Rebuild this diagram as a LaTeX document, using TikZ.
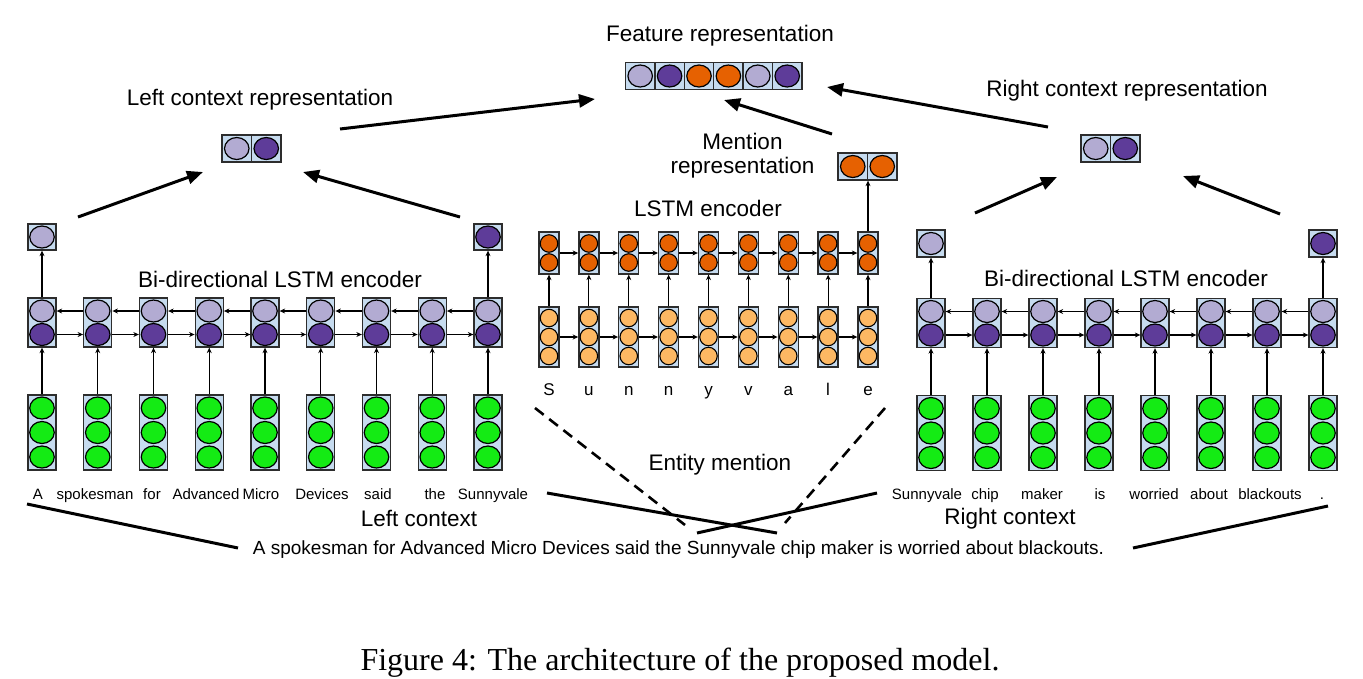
\documentclass[tikz,border=0pt]{standalone}
\usepackage{fontspec}
\setmainfont{Liberation Sans}
\newfontfamily\capfont{Liberation Serif}
\usetikzlibrary{arrows.meta,shapes.geometric}
\definecolor{cellbg}{RGB}{198,219,239}
\definecolor{lpur}{HTML}{B2ABD2}
\definecolor{dpur}{HTML}{5E3C99}
\definecolor{dor}{HTML}{E66101}
\definecolor{lor}{HTML}{FDB863}
\definecolor{grn}{RGB}{20,235,20}
\definecolor{edgec}{RGB}{45,45,45}
\begin{document}
\begin{tikzpicture}[x=1pt,y=-1pt,
  cellbox/.style={rectangle, draw=edgec, fill=cellbg, line width=1.3pt, inner sep=0pt},
  ell/.style={ellipse, draw=black, line width=1.2pt, inner sep=0pt, minimum width=24.5pt, minimum height=22pt},
  sml/.style={circle, draw=black, line width=1.1pt, inner sep=0pt, minimum size=17.5pt},
  link/.style={line width=1.1pt, -{Stealth[length=5.5pt,width=5pt]}},
  bigarrow/.style={line width=3pt, -{Triangle[length=16pt,width=13pt]}},
  bar/.style={line width=3pt},
  dashline/.style={line width=2.6pt, dash pattern=on 11pt off 7pt},
  lbl/.style={font=\fontsize{22.5pt}{27pt}\selectfont, inner sep=0pt},
  wrd/.style={font=\fontsize{15pt}{18pt}\selectfont, inner sep=0pt, anchor=base},
  chr/.style={font=\fontsize{17pt}{20pt}\selectfont, inner sep=0pt, anchor=base},
  sent/.style={font=\fontsize{19pt}{23pt}\selectfont, inner sep=0pt}
]
\useasboundingbox (0,0) rectangle (1363,678);

% ---------------- Left bi-directional encoder ----------------
\foreach \i in {0,...,8} {
  \pgfmathsetmacro\xx{42+55.75*\i}
  \node[cellbox, minimum width=28pt, minimum height=49pt] (LB\i) at (\xx,322.5) {};
  \node[ell, fill=lpur] (LBu\i) at (\xx,311) {};
  \node[ell, fill=dpur] (LBd\i) at (\xx,334.5) {};
  \node[cellbox, minimum width=28pt, minimum height=75pt] (LG\i) at (\xx,432.5) {};
  \node[ell, fill=grn] (LGa\i) at (\xx,408) {};
  \node[ell, fill=grn] (LGb\i) at (\xx,432.5) {};
  \node[ell, fill=grn] (LGc\i) at (\xx,457) {};
  \draw[link] (LG\i.north) -- (LB\i.south);
}
\foreach \i in {0,...,7} {
  \pgfmathtruncatemacro\j{\i+1}
  \draw[link] (LB\i.east |- LBd\i.center) -- (LB\j.west |- LBd\j.center);
  \draw[link] (LB\j.west |- LBu\j.center) -- (LB\i.east |- LBu\i.center);
}
\node[cellbox, minimum width=28pt, minimum height=26pt] (LO0) at (42,237) {};
\node[ell, fill=lpur] (LOe0) at (42,237) {};
\node[cellbox, minimum width=28pt, minimum height=26pt] (LO8) at (488,237) {};
\node[ell, fill=dpur] (LOe8) at (488,237) {};
\draw[link] (LB0.north) -- (LO0.south);
\draw[link] (LB8.north) -- (LO8.south);

\foreach \x/\w [count=\k] in {38/A, 95/spokesman, 152/for, 206/Advanced, 261/Micro, 322/Devices, 378/said, 435/the, 493/Sunnyvale}
  \node[wrd] (lw\k) at (\x,499.5) {\w};

% ---------------- Right bi-directional encoder ----------------
\foreach \i in {0,...,7} {
  \pgfmathsetmacro\xx{931+56*\i}
  \node[cellbox, minimum width=28pt, minimum height=49pt] (RB\i) at (\xx,323) {};
  \node[ell, fill=lpur] (RBu\i) at (\xx,311.5) {};
  \node[ell, fill=dpur] (RBd\i) at (\xx,335) {};
  \node[cellbox, minimum width=28pt, minimum height=75pt] (RG\i) at (\xx,433) {};
  \node[ell, fill=grn] (RGa\i) at (\xx,408.5) {};
  \node[ell, fill=grn] (RGb\i) at (\xx,433) {};
  \node[ell, fill=grn] (RGc\i) at (\xx,457.5) {};
  \draw[link] (RG\i.north) -- (RB\i.south);
}
\foreach \i in {0,...,6} {
  \pgfmathtruncatemacro\j{\i+1}
  \draw[link] (RB\i.east |- RBd\i.center) -- (RB\j.west |- RBd\j.center);
  \draw[link] (RB\j.west |- RBu\j.center) -- (RB\i.east |- RBu\i.center);
}
\node[cellbox, minimum width=28pt, minimum height=27pt] (RO0) at (931,243.5) {};
\node[ell, fill=lpur] (ROe0) at (931,243.5) {};
\node[cellbox, minimum width=28pt, minimum height=27pt] (RO7) at (1323,243.5) {};
\node[ell, fill=dpur] (ROe7) at (1323,243.5) {};
\draw[link] (RB0.north) -- (RO0.south);
\draw[link] (RB7.north) -- (RO7.south);

\foreach \x/\w [count=\k] in {927/Sunnyvale, 985/chip, 1042/maker, 1100/is, 1154/worried, 1209/about, 1270/blackouts, 1322/.}
  \node[wrd] (rw\k) at (\x,499.5) {\w};

% ---------------- Middle character LSTM ----------------
\foreach \i in {0,...,8} {
  \pgfmathsetmacro\xx{549+39.875*\i}
  \node[cellbox, minimum width=20pt, minimum height=42pt] (MT\i) at (\xx,253) {};
  \node[sml, fill=dor] (MTa\i) at (\xx,243.5) {};
  \node[sml, fill=dor] (MTb\i) at (\xx,262.5) {};
  \node[cellbox, minimum width=20pt, minimum height=60pt] (MB\i) at (\xx,337) {};
  \node[sml, fill=lor] (MBa\i) at (\xx,318) {};
  \node[sml, fill=lor] (MBb\i) at (\xx,337) {};
  \node[sml, fill=lor] (MBc\i) at (\xx,356) {};
  \draw[link] (MB\i.north) -- (MT\i.south);
}
\foreach \i in {0,...,7} {
  \pgfmathtruncatemacro\j{\i+1}
  \draw[link] (MT\i.east) -- (MT\j.west);
  \draw[link] (MB\i.east) -- (MB\j.west);
}
\foreach \c [count=\k from 0] in {S,u,n,n,y,v,a,l,e} {
  \pgfmathsetmacro\xx{549+39.875*\k}
  \node[chr] (ch\k) at (\xx,395) {\c};
}

% mention representation
\node[cellbox, minimum width=29.5pt, minimum height=27pt] (MRa) at (852.75,166.5) {};
\node[ell, fill=dor] (MRae) at (852.75,166.5) {};
\node[cellbox, minimum width=29.5pt, minimum height=27pt] (MRb) at (882.25,166.5) {};
\node[ell, fill=dor] (MRbe) at (882.25,166.5) {};
\draw[link] (MT8.north) -- (MT8.north |- MRa.south);

% left / right context representations
\node[cellbox, minimum width=29.5pt, minimum height=27pt] (LRa) at (236.75,148.5) {};
\node[ell, fill=lpur] (LRae) at (236.75,148.5) {};
\node[cellbox, minimum width=29.5pt, minimum height=27pt] (LRb) at (266.25,148.5) {};
\node[ell, fill=dpur] (LRbe) at (266.25,148.5) {};
\node[cellbox, minimum width=29.5pt, minimum height=27pt] (RRa) at (1095.75,148.5) {};
\node[ell, fill=lpur] (RRae) at (1095.75,148.5) {};
\node[cellbox, minimum width=29.5pt, minimum height=27pt] (RRb) at (1125.25,148.5) {};
\node[ell, fill=dpur] (RRbe) at (1125.25,148.5) {};

% feature representation
\foreach \c [count=\k from 0] in {lpur,dpur,dor,dor,lpur,dpur} {
  \pgfmathsetmacro\xx{640.2+29.4*\k}
  \node[cellbox, minimum width=29.4pt, minimum height=27pt] (F\k) at (\xx,76) {};
  \node[ell, fill=\c] (Fe\k) at (\xx,76) {};
}

% ---------------- Labels ----------------
\node[lbl] (tfeat) at (720,35.5) {Feature representation};
\node[lbl] (tleft) at (260,99.5) {Left context representation};
\node[lbl] (tright) at (1127,90.5) {Right context representation};
\node[lbl] (tment1) at (742.5,141) {Mention};
\node[lbl] (tment2) at (742.5,168) {representation};
\node[lbl] (tlstm) at (708,208) {LSTM encoder};
\node[lbl] (tbil) at (280,279) {Bi-directional LSTM encoder};
\node[lbl] (tbir) at (1126,278) {Bi-directional LSTM encoder};
\node[lbl] (tent) at (720,465) {Entity mention};
\node[lbl] (tlc) at (419,518.5) {Left context};
\node[lbl] (trc) at (1010,518.5) {Right context};
\node[sent] (tsent) at (678.5,550) {A spokesman for Advanced Micro Devices said the Sunnyvale chip maker is worried about blackouts.};
\node[font=\capfont\fontsize{32pt}{37pt}\selectfont, inner sep=0pt] (cap) at (680,663) {Figure 4: The architecture of the proposed model.};

% ---------------- Thick arrows ----------------
\coordinate (a1s) at (78,217);   \coordinate (a1e) at (203,172);
\coordinate (a2s) at (460,217);  \coordinate (a2e) at (303,172);
\coordinate (a3s) at (340,129);  \coordinate (a3e) at (595,99);
\coordinate (a4s) at (832,134);  \coordinate (a4e) at (724,100);
\coordinate (a5s) at (1048,127); \coordinate (a5e) at (827,87);
\coordinate (a6s) at (975,213);  \coordinate (a6e) at (1057,177);
\coordinate (a7s) at (1280,214); \coordinate (a7e) at (1183,176);
\draw[bigarrow] (a1s) -- (a1e);
\draw[bigarrow] (a2s) -- (a2e);
\draw[bigarrow] (a3s) -- (a3e);
\draw[bigarrow] (a4s) -- (a4e);
\draw[bigarrow] (a5s) -- (a5e);
\draw[bigarrow] (a6s) -- (a6e);
\draw[bigarrow] (a7s) -- (a7e);

% ---------------- Bottom lines ----------------
\coordinate (b1s) at (27,504);   \coordinate (b1e) at (238,548);
\coordinate (b2s) at (547,493);  \coordinate (b2e) at (777,533);
\coordinate (b3s) at (697,533);  \coordinate (b3e) at (877,493);
\coordinate (b4s) at (1133,548); \coordinate (b4e) at (1328,506);
\draw[bar] (b1s) -- (b1e);
\draw[bar] (b2s) -- (b2e);
\draw[bar] (b3s) -- (b3e);
\draw[bar] (b4s) -- (b4e);
\coordinate (d1s) at (535,408);  \coordinate (d1e) at (685,525);
\coordinate (d2s) at (885,408);  \coordinate (d2e) at (785,523);
\draw[dashline] (d1s) -- (d1e);
\draw[dashline] (d2s) -- (d2e);
\end{tikzpicture}
\end{document}
